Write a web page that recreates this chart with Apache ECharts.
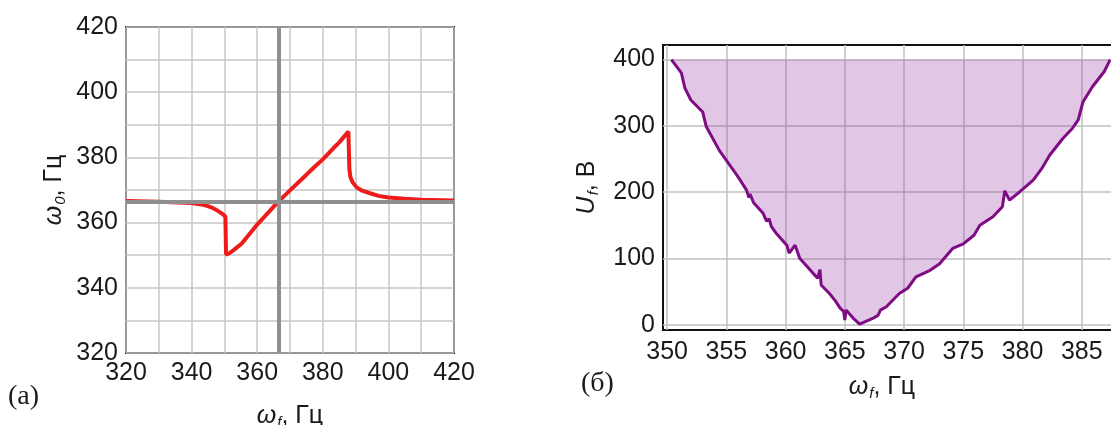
<!DOCTYPE html>
<html>
<head>
<meta charset="utf-8">
<script src="https://cdn.jsdelivr.net/npm/echarts@6/dist/echarts.min.js"></script>
<style>
  html, body { margin: 0; padding: 0; background: #fff; }
  #main { width: 1111px; height: 425px; }
</style>
</head>
<body>
<div id="main"></div>
<script>
// (a) omega_0 vs omega_f
var freqA = [320, 330, 340, 344, 346, 348, 349.5, 350.3, 350.5, 351.5, 353, 355.3, 360, 366.5, 370, 375, 377.6, 380, 383.2, 385, 387.8, 388.1, 388.4, 389, 390.3, 392, 394.4, 397, 400, 405, 410, 420];
var omega0 = [366.6, 366.4, 366.0, 365.4, 364.7, 363.6, 362.6, 361.8, 350.2, 350.6, 351.7, 353.6, 359.4, 366.5, 369.9, 374.7, 377.2, 379.4, 382.8, 384.6, 387.9, 376.5, 374.0, 372.5, 370.8, 369.8, 369.0, 368.2, 367.7, 367.3, 367.0, 366.8];
var resonance = 366.5;
var ticksA = [320, 340, 360, 380, 400, 420];

// (б) U_f vs omega_f
var freqB = [350.36, 351.2, 351.5, 352.0, 353.0, 353.3, 354.4, 355.6, 356.1, 356.7, 356.9, 357.0, 357.3, 357.7, 358.1, 358.4, 358.6, 358.8, 359.2, 360.1, 360.3, 360.8, 361.2, 361.8, 362.3, 362.7, 362.9, 363.0, 363.7, 364.2, 364.6, 364.9, 365.0, 365.1, 365.7, 366.25, 367.4, 367.8, 368.0, 368.5, 369.6, 370.3, 371.0, 372.2, 373.0, 374.1, 375.0, 375.9, 376.4, 377.5, 378.3, 378.5, 378.9, 379.8, 380.9, 381.6, 382.3, 383.4, 384.2, 384.7, 385.1, 385.9, 386.9, 387.4];
var voltage = [400, 380, 357, 339, 321, 299, 263, 233, 220, 203, 192, 197, 184, 176, 168, 156, 160, 148, 138, 120, 108, 120, 100, 88, 78, 70, 83, 60, 47, 36, 25, 20, 7, 22, 10, 1, 10, 14, 22, 27, 47, 55, 72, 82, 92, 115, 122, 135, 150, 163, 178, 202, 188, 201, 218, 235, 256, 281, 296, 309, 336, 359, 382, 400];
var ticksBx = [350, 355, 360, 365, 370, 375, 380, 385];
var ticksBy = [0, 100, 200, 300, 400];
var uMax = 400;

function pairs(xs, ys) {
  var out = [];
  for (var i = 0; i < xs.length; i++) out.push([xs[i], ys[i]]);
  return out;
}

var numFont = 'Arial, "Liberation Sans", sans-serif';
var labelStyle = { fontFamily: numFont, fontSize: 25, color: '#1a1a1a' };
var nameRich = {
  w: { fontFamily: numFont, fontStyle: 'italic', fontSize: 25, color: '#1a1a1a' },
  s: { fontFamily: numFont, fontStyle: 'italic', fontSize: 15, color: '#1a1a1a', verticalAlign: 'bottom', padding: [12, 0, 0, 1] },
  n: { fontFamily: numFont, fontSize: 25, color: '#1a1a1a' }
};

var chart = echarts.init(document.getElementById('main'));

var option = {
  animation: false,
  backgroundColor: '#fff',
  grid: [
    { left: 126, top: 27, width: 328, height: 326, outerBoundsMode: 'none', containLabel: false,
      show: true, borderColor: '#111', borderWidth: 2, backgroundColor: 'transparent' },
    { left: 663, top: 45, width: 478, height: 285, outerBoundsMode: 'none', containLabel: false,
      show: true, borderColor: '#111', borderWidth: 2, backgroundColor: 'transparent' }
  ],
  xAxis: [
    {
      gridIndex: 0, type: 'value', min: 320, max: 420, interval: 10,
      axisLine: { show: false }, axisTick: { show: false },
      axisLabel: Object.assign({ margin: 8, customValues: ticksA }, labelStyle),
      splitLine: { show: true, lineStyle: { color: '#c6c6c6', width: 1.5 } },
      name: '{w|ω}{s|f}{n|, Гц}', nameLocation: 'middle', nameGap: 50,
      nameTextStyle: { rich: nameRich }
    },
    {
      gridIndex: 1, type: 'value', min: 349.65, max: 390,
      axisLine: { show: false },
      axisTick: { show: false, customValues: ticksBx },
      axisLabel: Object.assign({ margin: 10, customValues: ticksBx }, labelStyle),
      splitLine: { show: true, lineStyle: { color: '#c0c0c0', width: 1.5 } },
      name: '{w|ω}{s|f}{n|, Гц}', nameLocation: 'middle', nameGap: 44,
      nameTextStyle: { rich: nameRich, padding: [0, 40, 0, 0] }
    }
  ],
  yAxis: [
    {
      gridIndex: 0, type: 'value', min: 320, max: 420, interval: 10,
      axisLine: { show: false }, axisTick: { show: false },
      axisLabel: Object.assign({ margin: 8, customValues: ticksA }, labelStyle),
      splitLine: { show: true, lineStyle: { color: '#c6c6c6', width: 1.5 } },
      name: '{w|ω}{s|0}{n|, Гц}', nameLocation: 'middle', nameGap: 58,
      nameTextStyle: { rich: nameRich }
    },
    {
      gridIndex: 1, type: 'value', min: -8, max: 422,
      axisLine: { show: false },
      axisTick: { show: false, customValues: ticksBy },
      axisLabel: Object.assign({ margin: 8, customValues: ticksBy }, labelStyle),
      splitLine: { show: true, lineStyle: { color: '#c0c0c0', width: 1.5 } },
      name: '{w|U}{s|f}{n|, В}', nameLocation: 'middle', nameGap: 62,
      nameTextStyle: { rich: nameRich }
    }
  ],
  series: [
    {
      // thick gray cross at resonance
      type: 'line', xAxisIndex: 0, yAxisIndex: 0, data: [], z: 1,
      markLine: {
        silent: true, symbol: 'none', label: { show: false },
        lineStyle: { color: '#8f8f8f', width: 4, type: 'solid' },
        data: [{ xAxis: resonance }, { yAxis: resonance }]
      }
    },
    {
      type: 'line', xAxisIndex: 0, yAxisIndex: 0, z: 3,
      data: pairs(freqA, omega0),
      showSymbol: false, symbol: 'none',
      lineStyle: { color: '#ee1b1b', width: 4 }
    },
    {
      type: 'line', xAxisIndex: 1, yAxisIndex: 1, z: 3,
      data: pairs(freqB, voltage),
      showSymbol: false, symbol: 'none',
      lineStyle: { color: '#7e0c84', width: 3 },
      areaStyle: { origin: uMax, color: 'rgba(150, 50, 160, 0.28)', opacity: 1 }
    }
  ],
  graphic: [
    { type: 'text', left: 8, top: 383, style: { text: '(a)', font: '28px "Liberation Serif", "Times New Roman", serif', fill: '#1a1a1a' } },
    { type: 'text', left: 581, top: 370, style: { text: '(б)', font: '28px "Liberation Serif", "Times New Roman", serif', fill: '#1a1a1a' } }
  ]
};

chart.setOption(option);
</script>
</body>
</html>
